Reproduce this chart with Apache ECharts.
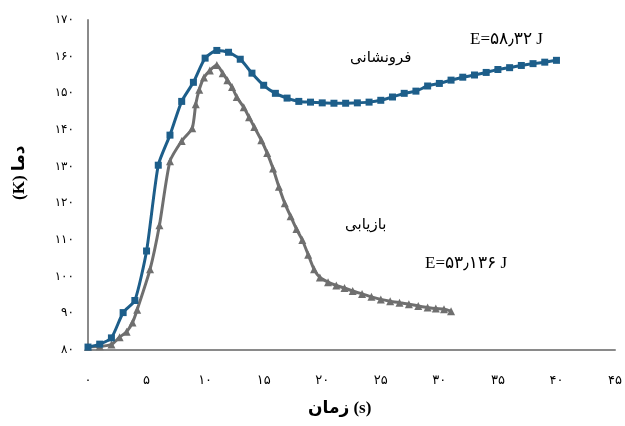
<!DOCTYPE html>
<html>
<head>
<meta charset="utf-8">
<script src="https://cdn.jsdelivr.net/npm/echarts@6/dist/echarts.min.js"></script>
<style>
html,body{margin:0;padding:0;background:#fff;}
#chart{width:625px;height:426px;}
</style>
</head>
<body>
<div id="chart"></div>
<script>
// Time (s) for the فرونشانی series
var blueTime = [0,1,2,3,4,5,6,7,8,9,10,11,12,13,14,15,16,17,18,19,20,21,22,23,24,25,26,27,28,29,30,31,32,33,34,35,36,37,38,39,40];
// Temperature (K) for the فرونشانی series
var blueTemp = [80.8,81.6,83.3,90.2,93.5,107,130.4,138.6,147.8,153,159.6,161.7,161.2,159.3,155.5,152.2,150,148.7,147.8,147.6,147.4,147.3,147.3,147.4,147.6,148.1,149,150,150.6,152,152.7,153.6,154.4,155,155.7,156.5,157,157.6,158.1,158.5,159];
// Time (s) for the بازیابی series
var grayTime = [0,1,2,2.7,3.3,3.8,4.2,5.3,6.1,7,8,8.9,9.2,9.5,9.9,10.4,11,11.5,11.9,12.3,12.7,13.3,13.75,14.2,14.8,15.3,15.8,16.3,16.8,17.3,17.8,18.3,18.8,19.3,19.8,20.5,21.2,21.9,22.6,23.4,24.2,25,25.8,26.6,27.4,28.2,29,29.7,30.4,31];
// Temperature (K) for the بازیابی series
var grayTemp = [80.8,81,81.5,83.5,85,87.5,91,102,114,131.5,137,140.5,147,151,154.3,156.2,157.7,155.5,153.6,151.7,149,146.2,143.5,140.8,137.2,133.7,129.5,124.5,120,116.5,113,110,106,102,99.8,98.5,97.6,96.9,96.1,95.3,94.5,93.8,93.3,92.9,92.5,92,91.6,91.3,91.1,90.6];
var xTicks = [0,5,10,15,20,25,30,35,40,45];
var yTicks = [80,90,100,110,120,130,140,150,160,170];
var blueName = 'فرونشانی';
var grayName = 'بازیابی';
var blueEnergy = 'E=۵۸٫۳۲ J';
var grayEnergy = 'E=۵۳٫۱۳۶ J';
var xTitle = 'زمان (s)';
var yTitle = '(K) دما';

function toFa(v){ return String(v).replace(/\d/g, function(d){ return '۰۱۲۳۴۵۶۷۸۹'[d]; }); }
function pairs(xs, ys){ return xs.map(function(x,i){ return [x, ys[i]]; }); }

var chart = echarts.init(document.getElementById('chart'));
var serifFont = '"Liberation Serif","DejaVu Sans",serif';
chart.setOption({
  animation: false,
  backgroundColor: '#fff',
  grid: {left: 88, right: 7, top: 20, bottom: 76},
  xAxis: {
    type: 'value', min: xTicks[0], max: xTicks[xTicks.length-1], interval: 5,
    axisLine: {lineStyle: {color: '#8a8a8a', width: 2}},
    axisTick: {show: false},
    splitLine: {show: false},
    axisLabel: {margin: 24, color: '#000', fontSize: 13, fontFamily: '"DejaVu Sans",sans-serif', formatter: toFa}
  },
  yAxis: {
    type: 'value', min: yTicks[0], max: yTicks[yTicks.length-1], interval: 10,
    axisLine: {show: true, lineStyle: {color: '#8a8a8a', width: 2}},
    axisTick: {show: false},
    splitLine: {show: false},
    axisLabel: {margin: 14, color: '#000', fontSize: 12, fontFamily: '"DejaVu Sans",sans-serif', formatter: toFa}
  },
  series: [
    {
      name: grayName, type: 'line', data: pairs(grayTime, grayTemp), smooth: 0.2,
      symbol: 'triangle', symbolSize: 8, showSymbol: true,
      lineStyle: {color: '#6f6f6f', width: 3},
      itemStyle: {color: '#6f6f6f'}, z: 2
    },
    {
      name: blueName, type: 'line', data: pairs(blueTime, blueTemp), smooth: 0.2,
      symbol: 'rect', symbolSize: 7, showSymbol: true,
      lineStyle: {color: '#1d5e8a', width: 3},
      itemStyle: {color: '#1d5e8a'}, z: 3
    }
  ],
  graphic: [
    {type: 'text', left: 350, top: 51, style: {text: blueName, font: '15px ' + serifFont, fill: '#000'}},
    {type: 'text', left: 470, top: 31, style: {text: blueEnergy, font: '17px ' + serifFont, fill: '#000'}},
    {type: 'text', left: 345, top: 218, style: {text: grayName, font: '15px ' + serifFont, fill: '#000'}},
    {type: 'text', left: 425, top: 255, style: {text: grayEnergy, font: '17px ' + serifFont, fill: '#000'}},
    {type: 'text', left: 308, top: 400, style: {text: xTitle, font: 'bold 17px ' + serifFont, fill: '#000'}},
    {type: 'text', x: 11, y: 200, rotation: Math.PI/2, style: {text: yTitle, font: 'bold 17px ' + serifFont, fill: '#000'}}
  ]
});
</script>
</body>
</html>
